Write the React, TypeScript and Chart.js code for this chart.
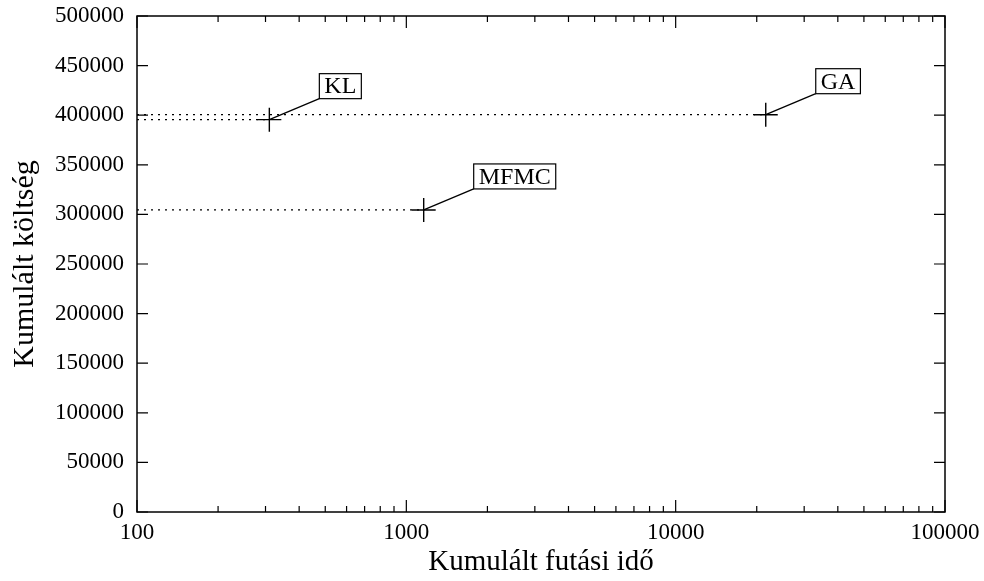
import React, { useEffect, useRef } from 'react';
import { Chart, registerables } from 'chart.js';

Chart.register(...registerables);

// ---- data ----
const methodNames = ['KL', 'MFMC', 'GA'];
const runTimes = [310, 1160, 21600];
const cumulativeCosts = [395500, 304500, 400500];
const xTickValues = [100, 1000, 10000, 100000];
const yMin = 0;
const yMax = 500000;
const yStep = 50000;
const xTitle = 'Kumulált futási idő';
const yTitle = 'Kumulált költség';

const FONT = "'Liberation Serif', 'Times New Roman', serif";

const frameTicksPlugin = {
  id: 'frameTicks',
  afterDraw(chart: any) {
    const { ctx, chartArea: a, scales } = chart;
    const x = scales.x;
    const y = scales.y;
    ctx.save();
    ctx.strokeStyle = '#000';
    ctx.lineWidth = 1.2;
    ctx.beginPath();
    y.ticks.forEach((t: any) => {
      const py = y.getPixelForValue(t.value);
      ctx.moveTo(a.left, py);
      ctx.lineTo(a.left + 11, py);
      ctx.moveTo(a.right, py);
      ctx.lineTo(a.right - 11, py);
    });
    const lo = Math.round(Math.log10(x.min));
    const hi = Math.round(Math.log10(x.max));
    for (let e = lo; e <= hi; e++) {
      for (let m = 1; m <= 9; m++) {
        const v = m * Math.pow(10, e);
        if (v > x.max * 1.0001) break;
        const px = x.getPixelForValue(v);
        const len = m === 1 ? 12 : 6;
        ctx.moveTo(px, a.bottom);
        ctx.lineTo(px, a.bottom - len);
        ctx.moveTo(px, a.top);
        ctx.lineTo(px, a.top + len);
      }
    }
    ctx.stroke();
    ctx.lineWidth = 1.5;
    ctx.strokeRect(a.left, a.top, a.right - a.left, a.bottom - a.top);
    ctx.restore();
  },
};

const labelPlugin = {
  id: 'pointLabels',
  afterDatasetsDraw(chart: any) {
    const { ctx } = chart;
    const idx = chart.data.datasets.findIndex((d: any) => d.isPoints);
    if (idx < 0) return;
    const meta = chart.getDatasetMeta(idx);
    ctx.save();
    ctx.font = `24px ${FONT}`;
    ctx.strokeStyle = '#000';
    ctx.fillStyle = '#000';
    meta.data.forEach((el: any, i: number) => {
      const px = el.x;
      const py = el.y;
      const bx = px + 50;
      const by = py - 21;
      ctx.lineWidth = 1.3;
      ctx.beginPath();
      ctx.moveTo(px, py);
      ctx.lineTo(bx, by);
      ctx.stroke();
      const name = methodNames[i];
      const w = ctx.measureText(name).width + 10;
      const h = 25;
      ctx.fillStyle = '#fff';
      ctx.fillRect(bx, by - h, w, h);
      ctx.lineWidth = 1.2;
      ctx.strokeRect(bx, by - h, w, h);
      ctx.fillStyle = '#000';
      ctx.textAlign = 'center';
      ctx.textBaseline = 'middle';
      ctx.fillText(name, bx + w / 2, by - h / 2 + 1);
    });
    ctx.restore();
  },
};

export default function App() {
  const ref = useRef<HTMLCanvasElement | null>(null);

  useEffect(() => {
    document.body.style.margin = '0';
    const canvas = ref.current;
    if (!canvas) return;

    const dottedSets = methodNames.map((name, i) => ({
      type: 'line' as const,
      label: name + ' level',
      data: [
        { x: xTickValues[0], y: cumulativeCosts[i] },
        { x: runTimes[i], y: cumulativeCosts[i] },
      ],
      borderColor: '#000',
      borderWidth: 1.2,
      borderDash: [2, 5],
      pointRadius: 0,
      fill: false,
    }));

    const pointSet: any = {
      type: 'scatter' as const,
      label: 'methods',
      isPoints: true,
      data: methodNames.map((_, i) => ({ x: runTimes[i], y: cumulativeCosts[i] })),
      pointStyle: 'cross',
      pointRadius: 12,
      borderColor: '#000',
      borderWidth: 1.4,
      backgroundColor: '#000',
    };

    const chart = new Chart(canvas, {
      type: 'scatter',
      data: { datasets: [...dottedSets, pointSet] as any },
      options: {
        animation: false,
        responsive: true,
        maintainAspectRatio: false,
        events: [],
        layout: { padding: { top: 16, right: 39, left: 0, bottom: 0 } },
        plugins: {
          legend: { display: false },
          tooltip: { enabled: false },
        },
        scales: {
          x: {
            type: 'logarithmic',
            min: xTickValues[0],
            max: xTickValues[xTickValues.length - 1],
            grid: { display: false, drawTicks: false },
            border: { display: false },
            afterBuildTicks: (scale: any) => {
              scale.ticks = xTickValues.map((v) => ({ value: v }));
            },
            afterFit: (scale: any) => {
              scale.height = 69;
              scale.paddingLeft = 0;
              scale.paddingRight = 0;
            },
            ticks: {
              autoSkip: false,
              maxRotation: 0,
              padding: 7,
              color: '#000',
              font: { family: FONT, size: 23 },
              callback: (v: any) => String(v),
            },
            title: {
              display: true,
              text: xTitle,
              color: '#000',
              font: { family: FONT, size: 29 },
              padding: { top: 0, bottom: 1 },
            },
          },
          y: {
            type: 'linear',
            min: yMin,
            max: yMax,
            grid: { display: false, drawTicks: false },
            border: { display: false },
            afterFit: (scale: any) => {
              scale.width = 137;
              scale.paddingTop = 0;
              scale.paddingBottom = 0;
            },
            ticks: {
              stepSize: yStep,
              padding: 13,
              color: '#000',
              font: { family: FONT, size: 23 },
              callback: (v: any) => String(v),
            },
            title: {
              display: true,
              text: yTitle,
              color: '#000',
              font: { family: FONT, size: 30 },
              padding: { top: 7, bottom: 0 },
            },
          },
        },
      },
      plugins: [frameTicksPlugin, labelPlugin],
    } as any);

    return () => chart.destroy();
  }, []);

  return (
    <div style={{ position: 'relative', width: 984, height: 581, background: '#fff' }}>
      <canvas ref={ref} />
    </div>
  );
}
